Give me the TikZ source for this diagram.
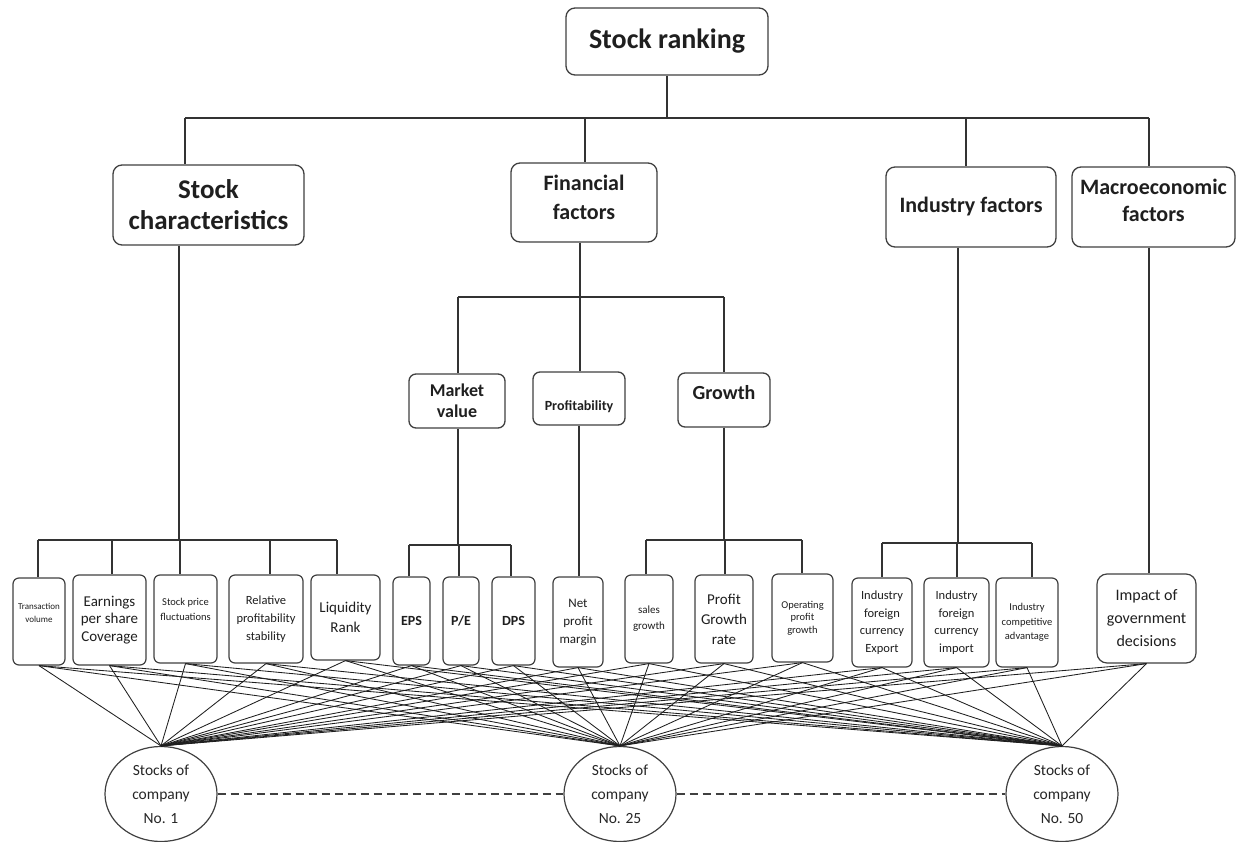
\documentclass[tikz,border=0pt]{standalone}
\usepackage{fontspec}
\setmainfont{Carlito}
\usetikzlibrary{shapes.geometric}
\begin{document}
\begin{tikzpicture}[x=1pt,y=-1pt,
  box/.style={draw=black!75, line width=1.3pt, rounded corners=9pt, fill=white, align=center, inner sep=0pt, text=black!88},
  leaf/.style={box, rounded corners=6pt, line width=1.2pt},
  conn/.style={draw=black!80, line width=1.1pt},
  web/.style={draw=black!88, line width=0.85pt},
  company/.style={ellipse, draw=black!75, line width=1.2pt, fill=white, minimum width=112pt, minimum height=95pt, inner sep=0pt, align=center, text=black!85, font=\fontsize{15.5}{24}\selectfont},
  dashlink/.style={draw=black!75, line width=1.9pt, dash pattern=on 8pt off 5pt}
]
\useasboundingbox (0,0) rectangle (1237,842);

% ---- top levels
\node[box, minimum width=202pt, minimum height=67pt, font=\bfseries\fontsize{28}{34}\selectfont] (root) at (667,41.5) {Stock ranking};
\node[box, minimum width=191pt, minimum height=80pt, font=\bfseries\fontsize{27}{31}\selectfont] (sc) at (208.5,205) {Stock\\characteristics};
\node[box, minimum width=146pt, minimum height=79pt, font=\bfseries\fontsize{22}{29}\selectfont] (ff) at (584,202.5) {\raisebox{3pt}[\height][\depth]{\begin{tabular}{@{}c@{}}Financial\\factors\end{tabular}}};
\node[box, minimum width=170pt, minimum height=80pt, font=\bfseries\fontsize{22}{27}\selectfont] (ind) at (971,207) {Industry factors};
\node[box, minimum width=163pt, minimum height=80pt, font=\bfseries\fontsize{22}{27}\selectfont] (mac) at (1153.5,207) {\raisebox{4pt}[\height][\depth]{\begin{tabular}{@{}c@{}}Macroeconomic\\factors\end{tabular}}};

\node[box, rounded corners=7pt, minimum width=96pt, minimum height=54pt, font=\bfseries\fontsize{18}{21}\selectfont] (mv) at (457,401) {Market\\value};
\node[box, rounded corners=7pt, minimum width=92pt, minimum height=53pt, font=\bfseries\fontsize{14}{17}\selectfont] (prof) at (579,398.5) {\raisebox{-8pt}[\height][\depth]{Profitability}};
\node[box, rounded corners=7pt, minimum width=92pt, minimum height=54pt, font=\bfseries\fontsize{20}{24}\selectfont] (gr) at (724,400) {\raisebox{7pt}[\height][\depth]{Growth}};

% ---- leaves
\node[leaf, minimum width=52pt, minimum height=87pt, font=\fontsize{9}{13}\selectfont] (l1) at (39,621.5) {Transaction\\volume\\[4pt]};
\node[leaf, minimum width=73pt, minimum height=90pt, font=\fontsize{15}{17.5}\selectfont] (l2) at (109.5,620) {Earnings\\per share\\Coverage};
\node[leaf, minimum width=63pt, minimum height=88pt, font=\fontsize{10.5}{15}\selectfont] (l3) at (185.5,619) {Stock price\\fluctuations\\[4pt]};
\node[leaf, minimum width=74pt, minimum height=88pt, font=\fontsize{12.5}{18}\selectfont] (l4) at (266,619) {Relative\\profitability\\stability};
\node[leaf, minimum width=69pt, minimum height=85pt, font=\fontsize{15}{20}\selectfont] (l5) at (345.5,617.5) {Liquidity\\Rank};
\node[leaf, minimum width=37pt, minimum height=88pt, font=\bfseries\fontsize{14}{17}\selectfont] (l6) at (411.5,621) {EPS};
\node[leaf, minimum width=36pt, minimum height=88pt, font=\bfseries\fontsize{14}{17}\selectfont] (l7) at (461,621) {P/E};
\node[leaf, minimum width=43pt, minimum height=88pt, font=\bfseries\fontsize{14}{17}\selectfont] (l8) at (513.5,621) {DPS};
\node[leaf, minimum width=50pt, minimum height=90pt, font=\fontsize{13}{18}\selectfont] (l9) at (578,622) {Net\\profit\\margin};
\node[leaf, minimum width=48pt, minimum height=88pt, font=\fontsize{11}{16}\selectfont] (l10) at (649,619) {sales\\growth};
\node[leaf, minimum width=58pt, minimum height=88pt, font=\fontsize{15}{20}\selectfont] (l11) at (724,619) {Profit\\Growth\\rate};
\node[leaf, minimum width=61pt, minimum height=88pt, font=\fontsize{10.5}{12.5}\selectfont] (l12) at (802.5,618) {Operating\\profit\\growth};
\node[leaf, minimum width=60pt, minimum height=89pt, font=\fontsize{12.5}{17.5}\selectfont] (l13) at (882,622.5) {Industry\\foreign\\currency\\Export};
\node[leaf, minimum width=65pt, minimum height=89pt, font=\fontsize{12.5}{17.5}\selectfont] (l14) at (956.5,622.5) {Industry\\foreign\\currency\\import};
\node[leaf, minimum width=62pt, minimum height=89pt, font=\fontsize{10.5}{14.5}\selectfont] (l15) at (1027,622.5) {Industry\\competitive\\advantage};
\node[leaf, rounded corners=10pt, minimum width=99pt, minimum height=89pt, font=\fontsize{16}{23}\selectfont] (l16) at (1146.5,618.5) {Impact of\\government\\decisions};

% ---- companies
\node[company] (c1) at (161,794) {Stocks of\\company\\No. 1};
\node[company] (c2) at (620,794) {Stocks of\\company\\No. 25};
\node[company] (c3) at (1062,794) {Stocks of\\company\\No. 50};
\draw[dashlink] (c1.east) -- (c2.west);
\draw[dashlink] (c2.east) -- (c3.west);

% ---- web of leaf-to-company connectors
\foreach \l in {l1,l2,l3,l4,l5,l6,l7,l8,l9,l10,l11,l12,l13,l14,l15,l16}
  \foreach \c in {c1,c2,c3}
    \draw[web] (\l.south) -- (\c.north);

% ---- tree connectors, level 1
\coordinate (b1L) at (185,118);
\coordinate (b1F) at (585,118);
\coordinate (b1I) at (966,118);
\coordinate (b1R) at (1149,118);
\draw[conn] (root.south) -- (root.south |- b1L);
\draw[conn] (b1L) -- (b1R);
\draw[conn] (b1L) -- (b1L |- sc.north);
\draw[conn] (b1F) -- (b1F |- ff.north);
\draw[conn] (b1I) -- (b1I |- ind.north);
\draw[conn] (b1R) -- (b1R |- mac.north);

% ---- financial factors sub-level
\coordinate (b2F) at (580,297);
\coordinate (b2L) at (458,297);
\coordinate (b2R) at (724,297);
\draw[conn] (b2F |- ff.south) -- (b2F);
\draw[conn] (b2L) -- (b2R);
\draw[conn] (b2L) -- (b2L |- mv.north);
\draw[conn] (b2F) -- (b2F |- prof.north);
\draw[conn] (b2R) -- (b2R |- gr.north);

% ---- stock characteristics leaves
\coordinate (s0) at (179,540);
\draw[conn] (s0 |- sc.south) -- (s0);
\coordinate (s1) at (38,540);
\coordinate (s2) at (112,540);
\coordinate (s3) at (180,540);
\coordinate (s4) at (270,540);
\coordinate (s5) at (337,540);
\draw[conn] (s1) -- (s5);
\draw[conn] (s1) -- (s1 |- l1.north);
\draw[conn] (s2) -- (s2 |- l2.north);
\draw[conn] (s3) -- (s3 |- l3.north);
\draw[conn] (s4) -- (s4 |- l4.north);
\draw[conn] (s5) -- (s5 |- l5.north);

% ---- market value leaves
\coordinate (m0) at (458,545);
\draw[conn] (m0 |- mv.south) -- (m0);
\coordinate (m1) at (409,545);
\coordinate (m2) at (459,545);
\coordinate (m3) at (511,545);
\draw[conn] (m1) -- (m3);
\draw[conn] (m1) -- (m1 |- l6.north);
\draw[conn] (m2) -- (m2 |- l7.north);
\draw[conn] (m3) -- (m3 |- l8.north);

% ---- profitability leaf
\coordinate (p0) at (579,500);
\draw[conn] (p0 |- prof.south) -- (p0 |- l9.north);

% ---- growth leaves
\coordinate (g0) at (724,540);
\draw[conn] (g0 |- gr.south) -- (g0);
\coordinate (g1) at (646,540);
\coordinate (g2) at (725,540);
\coordinate (g3) at (802,540);
\draw[conn] (g1) -- (g3);
\draw[conn] (g1) -- (g1 |- l10.north);
\draw[conn] (g2) -- (g2 |- l11.north);
\draw[conn] (g3) -- (g3 |- l12.north);

% ---- industry leaves
\coordinate (i0) at (958,543);
\draw[conn] (i0 |- ind.south) -- (i0);
\coordinate (i1) at (882,543);
\coordinate (i2) at (957,543);
\coordinate (i3) at (1032,543);
\draw[conn] (i1) -- (i3);
\draw[conn] (i1) -- (i1 |- l13.north);
\draw[conn] (i2) -- (i2 |- l14.north);
\draw[conn] (i3) -- (i3 |- l15.north);

% ---- macroeconomic leaf
\coordinate (k0) at (1149,400);
\draw[conn] (k0 |- mac.south) -- (k0 |- l16.north);
\end{tikzpicture}
\end{document}
